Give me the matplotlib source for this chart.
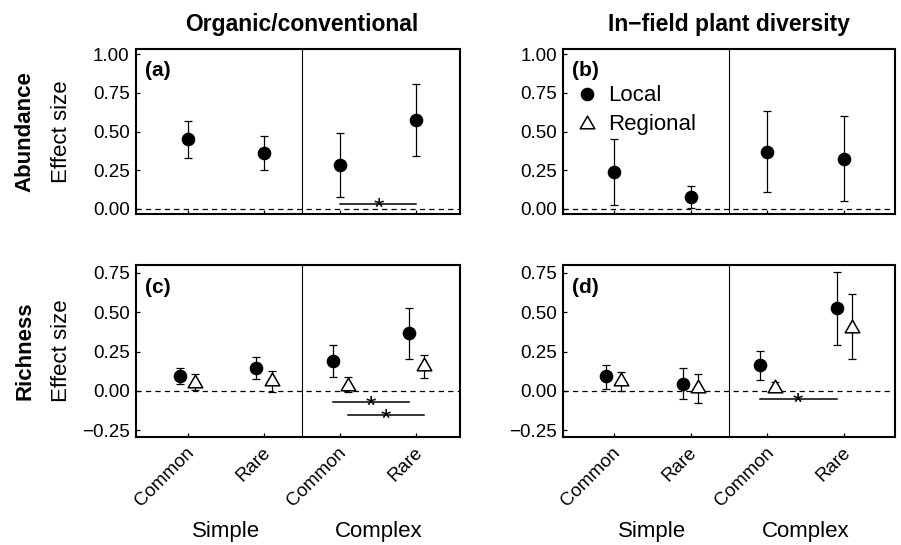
import matplotlib
matplotlib.use('Agg')
import numpy as np
import matplotlib.pyplot as plt
import matplotlib.transforms as mtrans
from matplotlib.lines import Line2D
from matplotlib.path import Path

plt.rcParams['font.family'] = ['Liberation Sans', 'DejaVu Sans']
plt.rcParams['lines.scale_dashes'] = False

# x categories (same four in every panel)
xpos = np.array([1, 2, 3, 4])
xlabels = ['Common', 'Rare', 'Common', 'Rare']
landscape = ['Simple', 'Complex']

# (a) abundance, organic/conventional - local only
a_local = [0.450, 0.362, 0.283, 0.576]
a_local_lo = [0.328, 0.254, 0.075, 0.342]
a_local_hi = [0.566, 0.472, 0.490, 0.806]

# (b) abundance, in-field plant diversity - local only
b_local = [0.238, 0.077, 0.365, 0.324]
b_local_lo = [0.024, 0.004, 0.107, 0.049]
b_local_hi = [0.453, 0.146, 0.631, 0.597]

# (c) richness, organic/conventional
c_local = [0.093, 0.146, 0.189, 0.365]
c_local_lo = [0.043, 0.074, 0.089, 0.200]
c_local_hi = [0.146, 0.216, 0.290, 0.530]
c_reg = [0.064, 0.075, 0.047, 0.172]
c_reg_lo = [0.009, -0.006, -0.006, 0.085]
c_reg_hi = [0.105, 0.125, 0.089, 0.231]

# (d) richness, in-field plant diversity
d_local = [0.093, 0.047, 0.163, 0.524]
d_local_lo = [0.015, -0.049, 0.072, 0.290]
d_local_hi = [0.168, 0.146, 0.257, 0.753]
d_reg = [0.075, 0.033, 0.034, 0.414]
d_reg_lo = [-0.002, -0.076, 0.010, 0.202]
d_reg_hi = [0.121, 0.110, 0.055, 0.613]

# significance bars: (x start, x end, y)
a_sig = [(3.0, 4.0, 0.034)]
b_sig = []
c_sig = [(2.9, 3.9, -0.072), (3.1, 4.1, -0.150)]
d_sig = [(2.9, 3.9, -0.049)]

top_yticks = [0.0, 0.25, 0.5, 0.75, 1.0]
bot_yticks = [-0.25, 0.0, 0.25, 0.5, 0.75]

# open equilateral triangle, centred on its bounding box
tri = Path([(-1, -0.866), (1, -0.866), (0, 0.866), (-1, -0.866)],
           [Path.MOVETO, Path.LINETO, Path.LINETO, Path.CLOSEPOLY])


def fmt(v):
    return '{:.2f}'.format(v).replace('-', '\u2212')


def draw_series(ax, x, mean, lo, hi, kind):
    mean = np.array(mean)
    yerr = [mean - np.array(lo), np.array(hi) - mean]
    ax.errorbar(x, mean, yerr=yerr, fmt='none', ecolor='black',
                elinewidth=0.9, capsize=3, capthick=0.9, zorder=3)
    if kind == 'local':
        ax.plot(x, mean, 'o', ms=8.8, mfc='black', mec='black', zorder=4)
    else:
        ax.plot(x, mean, ls='none', marker=tri, ms=10.5, mfc='white',
                mec='black', mew=1.1, zorder=4)


def setup(ax, xlim, ylim, yticks, bottom):
    ax.set_xlim(*xlim)
    ax.set_ylim(*ylim)
    ax.axvline(2.5, color='black', lw=0.8, zorder=1)
    ax.axhline(0, color='black', lw=0.9, dashes=(3.8, 3.0), zorder=1)
    for s in ax.spines.values():
        s.set_linewidth(1.5)
    ax.set_yticks(yticks)
    ax.set_yticklabels([fmt(v) for v in yticks])
    ax.set_xticks(xpos)
    ax.tick_params(direction='in', length=3, width=0.9, labelsize=13.5)
    ax.tick_params(axis='y', pad=4.5)
    if bottom:
        ax.set_xticklabels(xlabels, rotation=45, ha='right', va='baseline',
                           rotation_mode='anchor')
        ax.tick_params(axis='x', pad=12)
        off = mtrans.ScaledTranslation(5 / 72, 0, ax.figure.dpi_scale_trans)
        for lab in ax.get_xticklabels():
            lab.set_transform(lab.get_transform() + off)
        tr = mtrans.blended_transform_factory(ax.transData, ax.transAxes)
        ax.text(1.5, -0.581, landscape[0], transform=tr, ha='center',
                va='baseline', fontsize=16)
        ax.text(3.5, -0.581, landscape[1], transform=tr, ha='center',
                va='baseline', fontsize=16)
    else:
        ax.set_xticklabels([])


def draw_sig(ax, sigs):
    for x0, x1, y in sigs:
        ax.plot([x0, x1], [y, y], color='black', lw=1.1, zorder=2)
        ax.annotate('*', xy=((x0 + x1) / 2, y), xytext=(0, -8.6),
                    textcoords='offset points', ha='center', va='baseline',
                    fontsize=19)


fig = plt.figure(figsize=(9.01, 5.45), dpi=100)

ax_a = fig.add_axes([0.1509, 0.6073, 0.3596, 0.3028])
ax_b = fig.add_axes([0.6249, 0.6073, 0.3685, 0.3028])
ax_c = fig.add_axes([0.1509, 0.1982, 0.3596, 0.3156])
ax_d = fig.add_axes([0.6249, 0.1982, 0.3685, 0.3156])

left_xlim = (0.322, 4.57)
right_xlim = (0.34, 4.66)
top_ylim = (-0.033, 1.033)
bot_ylim = (-0.292, 0.80)

setup(ax_a, left_xlim, top_ylim, top_yticks, False)
setup(ax_b, right_xlim, top_ylim, top_yticks, False)
setup(ax_c, left_xlim, bot_ylim, bot_yticks, True)
setup(ax_d, right_xlim, bot_ylim, bot_yticks, True)

draw_series(ax_a, xpos, a_local, a_local_lo, a_local_hi, 'local')
draw_series(ax_b, xpos, b_local, b_local_lo, b_local_hi, 'local')
draw_series(ax_c, xpos - 0.1, c_local, c_local_lo, c_local_hi, 'local')
draw_series(ax_c, xpos + 0.1, c_reg, c_reg_lo, c_reg_hi, 'regional')
draw_series(ax_d, xpos - 0.1, d_local, d_local_lo, d_local_hi, 'local')
draw_series(ax_d, xpos + 0.1, d_reg, d_reg_lo, d_reg_hi, 'regional')

draw_sig(ax_a, a_sig)
draw_sig(ax_b, b_sig)
draw_sig(ax_c, c_sig)
draw_sig(ax_d, d_sig)

for ax, lab in zip([ax_a, ax_b, ax_c, ax_d], ['(a)', '(b)', '(c)', '(d)']):
    ax.text(0.028, 0.835, lab, transform=ax.transAxes, ha='left',
            va='baseline', fontsize=15, fontweight='bold')

# column titles
for ax, title in zip([ax_a, ax_b], ['Organic/conventional', 'In\u2212field plant diversity']):
    tr = mtrans.blended_transform_factory(ax.transData, ax.transAxes)
    ax.text(2.5, 1.112, title, transform=tr, ha='center', va='baseline',
            fontsize=16.5, fontweight='bold')

# row labels
for ax in [ax_a, ax_c]:
    ax.set_ylabel('Effect size', fontsize=16)
    ax.yaxis.set_label_coords(-0.198, 0.5)
fig.text(25 / 901, 1 - 131.5 / 545, 'Abundance', rotation=90, ha='center',
         va='center', fontsize=16, fontweight='bold')
fig.text(25 / 901, 1 - 351 / 545, 'Richness', rotation=90, ha='center',
         va='center', fontsize=16, fontweight='bold')

# legend in (b)
handles = [Line2D([], [], ls='none', marker='o', ms=8.8, mfc='black', mec='black'),
           Line2D([], [], ls='none', marker=tri, ms=10.5, mfc='white', mec='black', mew=1.1)]
ax_b.legend(handles, ['Local', 'Regional'], loc='upper left',
            bbox_to_anchor=(0.04, 0.78), frameon=False, fontsize=16,
            handlelength=1.0, handletextpad=0.45, labelspacing=0.35,
            borderpad=0, borderaxespad=0)

fig.savefig('out.png', dpi=100)
